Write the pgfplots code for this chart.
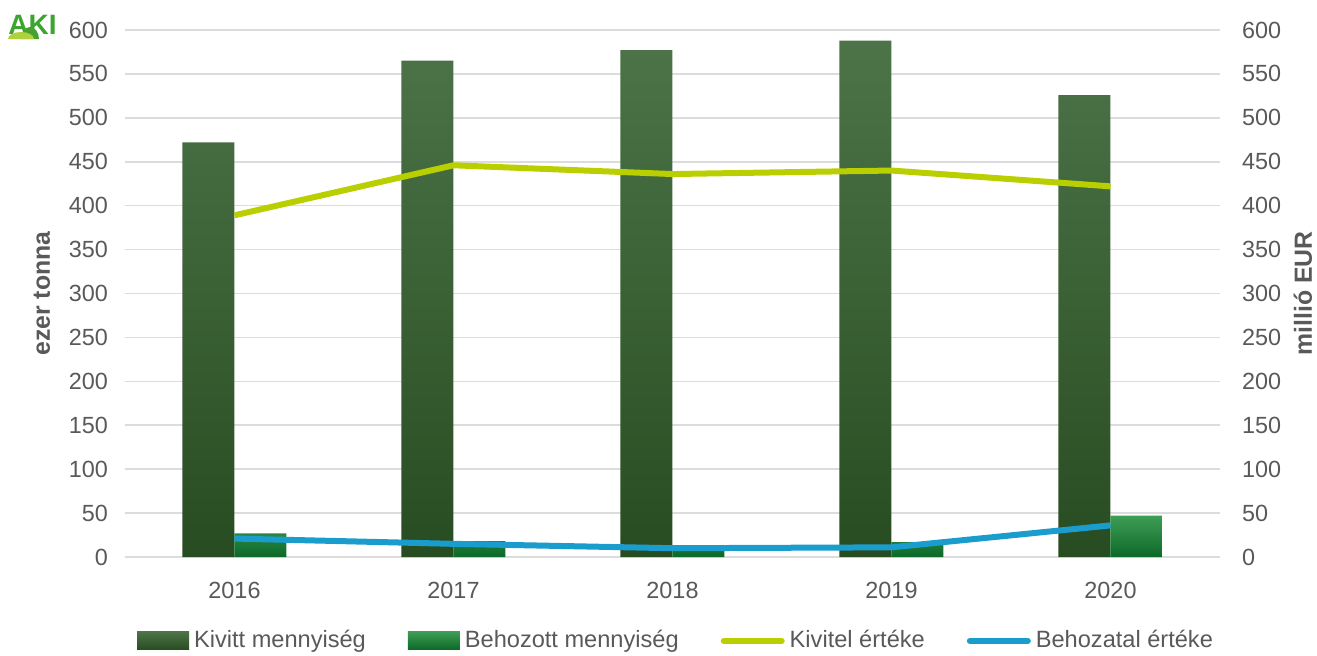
\documentclass[border=0pt]{standalone}
\usepackage{fontspec}
\setmainfont{Liberation Sans}
\usepackage{pgfplots}
\pgfplotsset{compat=1.18}
\definecolor{darkTop}{RGB}{76,116,72}
\definecolor{darkBot}{RGB}{40,76,33}
\definecolor{lightTop}{RGB}{62,158,84}
\definecolor{lightBot}{RGB}{12,104,40}
\definecolor{kivitel}{RGB}{186,207,0}
\definecolor{behozatal}{RGB}{26,157,205}
\definecolor{txt}{RGB}{89,89,89}
\definecolor{gridc}{RGB}{220,220,220}
\definecolor{akigreen}{RGB}{60,165,45}
\definecolor{akidark}{RGB}{70,160,50}
\definecolor{akilight}{RGB}{175,210,60}
\begin{document}
\begin{tikzpicture}
\pgfplotsset{
 common/.style={scale only axis, width=547.5pt, height=263.5pt, at={(0,0)}, anchor=south west,
   xmin=-0.5, xmax=4.5, ymin=0, ymax=600, ytick={0,50,...,600},
   axis line style={draw=none}, major tick length=0pt,
   tick label style={font=\fontsize{11.7}{13}\selectfont, text=txt},
   /pgf/number format/assume math mode=true},
}
\begin{axis}[common, ytick pos=left, xtick={0,1,2,3,4}, xticklabels={2016,2017,2018,2019,2020}, xtick pos=bottom,
  ymajorgrids, grid style={gridc, line width=0.8pt},
  ylabel={ezer tonna},
  every axis y label/.style={at={(axis description cs:-0.0758,0.5)}, rotate=90, anchor=center, font=\bfseries\fontsize{12.4}{14}\selectfont, text=txt},
  xticklabel style={yshift=-9pt},
  yticklabel style={xshift=-5pt},
  legend style={at={(axis description cs:0.5046,-0.159)}, anchor=center, draw=none, fill=none, legend columns=4,
    font=\fontsize{11.8}{13}\selectfont, text=txt,
    /tikz/every even column/.append style={column sep=18.5pt}, nodes={inner xsep=2.5pt, inner ysep=1pt}},
  legend cell align=left]
\addplot[ybar, bar width=26pt, bar shift=-13pt, draw=none, top color=darkTop, bottom color=darkBot,
  legend image code/.code={\fill[top color=darkTop, bottom color=darkBot] (0pt,-4.5pt) rectangle (26pt,4.5pt);}]
  coordinates {(0,472) (1,565) (2,577) (3,588) (4,526)};
\addlegendentry{Kivitt mennyiség}
\addplot[ybar, bar width=26pt, bar shift=13pt, draw=none, top color=lightTop, bottom color=lightBot,
  legend image code/.code={\fill[top color=lightTop, bottom color=lightBot] (0pt,-4.5pt) rectangle (26pt,4.5pt);}]
  coordinates {(0,27) (1,18) (2,11) (3,17) (4,47)};
\addlegendentry{Behozott mennyiség}
\addlegendimage{legend image code/.code={\draw[kivitel, line width=3pt, line cap=round] (0pt,0pt) -- (29pt,0pt);}}
\addlegendentry{Kivitel értéke}
\addlegendimage{legend image code/.code={\draw[behozatal, line width=3pt, line cap=round] (0pt,0pt) -- (29pt,0pt);}}
\addlegendentry{Behozatal értéke}
\end{axis}
\begin{axis}[common, hide x axis, ytick pos=right, yticklabel pos=right,
  yticklabel style={xshift=7.5pt},
  ylabel={millió EUR},
  every axis y label/.style={at={(axis description cs:1.0758,0.5)}, rotate=90, anchor=center, font=\bfseries\fontsize{12.4}{14}\selectfont, text=txt}]
\addplot[kivitel, line width=3pt, line join=round, mark=none] coordinates {(0,389) (1,446) (2,436) (3,440) (4,422)};
\addplot[behozatal, line width=3pt, line join=round, mark=none] coordinates {(0,21) (1,15) (2,10) (3,11) (4,36)};
\end{axis}
% logo
\node[anchor=north west, inner sep=0pt, font=\bfseries\fontsize{14}{14}\selectfont, text=akigreen] at (-58.5pt,271pt) {AKI};
\fill[akidark] (-52pt,259pt) arc (180:0:4.5pt and 6pt) -- cycle;
\fill[akilight] (-58.5pt,259pt) arc (180:0:6.5pt and 3.5pt) -- cycle;
\pgfresetboundingbox
\path[use as bounding box] (-62.5pt,-49pt) rectangle (596pt,278.5pt);
\end{tikzpicture}
\end{document}
